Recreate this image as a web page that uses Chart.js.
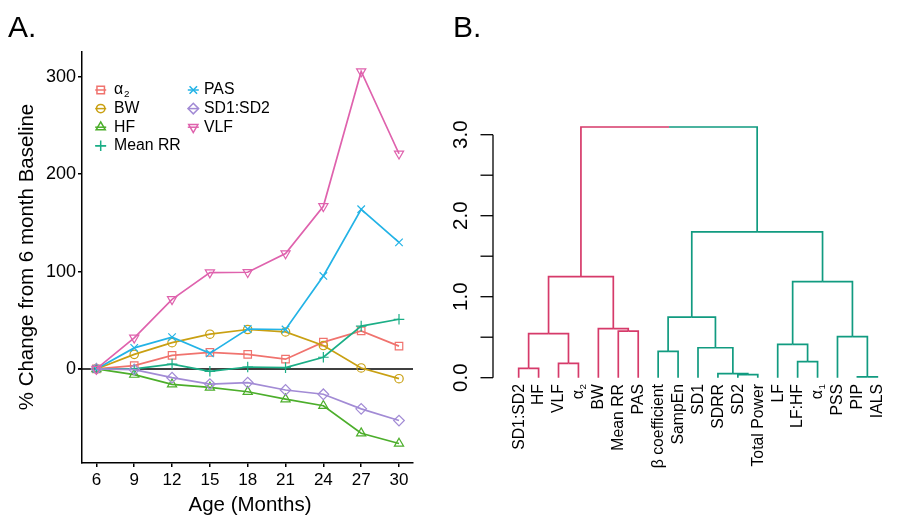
<!DOCTYPE html>
<html><head><meta charset="utf-8">
<script src="https://cdn.jsdelivr.net/npm/chart.js@4.4.1/dist/chart.umd.min.js"></script>
<style>
html,body{margin:0;padding:0;background:#fff;}
#wrap{position:relative;width:898px;height:517px;overflow:hidden;background:#fff;}
.pane{position:absolute;top:0;width:449px;height:517px;}
</style></head><body>
<div id="wrap">
<div class="pane" style="left:0"><canvas id="chartA" width="449" height="517"></canvas></div>
<div class="pane" style="left:449px"><canvas id="chartB" width="449" height="517"></canvas></div>
</div>
<script>
// ---------- Panel A data ----------
const ages = [6, 9, 12, 15, 18, 21, 24, 27, 30];
const seriesNames = ['α₂', 'BW', 'HF', 'Mean RR', 'PAS', 'SD1:SD2', 'VLF'];
const alpha2 = [0, 3.4, 14, 17, 15, 10, 27.5, 39, 23.4];
const bw = [0, 15, 27, 35.7, 40.5, 38, 24, 1, -10];
const hf = [0, -5.8, -15.8, -19, -23.4, -31, -37.8, -66, -76.6];
const meanRR = [0, 0, 5, -2.4, 2, 1.4, 12, 44, 51];
const pas = [0, 21.6, 32.6, 16, 41, 40.5, 95.5, 164, 130];
const sd1sd2 = [0, -0.7, -9, -15.5, -14, -21.6, -26, -41, -53];
const vlf = [0, 32, 71.5, 99, 99.3, 118.6, 167, 305.5, 221];
const yTicksA = [0, 100, 200, 300];
const xTicksA = [6, 9, 12, 15, 18, 21, 24, 27, 30];

// ---------- Panel B data ----------
const leafLabels = ['SD1:SD2', 'HF', 'VLF', 'α₂', 'BW', 'Mean RR', 'PAS', 'β coefficient', 'SampEn', 'SD1',
  'SDRR', 'SD2', 'Total Power', 'LF', 'LF:HF', 'α₁', 'PSS', 'PIP', 'IALS'];
const mergeA = [-18, -12, -11, -1, -3, -15, -8, -10, -14, -17, 4, -6, -5, 7, 9, 11, 14, 16];
const mergeB = [-19, -13, 2, -2, -4, -16, -9, 3, 6, 1, 5, -7, 12, 8, 10, 13, 15, 17];
const mergeH = [0.01, 0.037, 0.05, 0.116, 0.178, 0.198, 0.326, 0.37, 0.412, 0.506, 0.543, 0.576, 0.605, 0.749, 1.185, 1.247, 1.80, 3.095];
const leafCluster = [1, 1, 1, 1, 1, 1, 1, 2, 2, 2, 2, 2, 2, 2, 2, 2, 2, 2, 2];
const yTicksB = [0, 0.5, 1, 1.5, 2, 2.5, 3];
const yTickLabelsB = ['0.0', '', '1.0', '', '2.0', '', '3.0'];

// ---------- styles ----------
const fontFam = '"Liberation Sans", Arial, Helvetica, "DejaVu Sans", sans-serif';
Chart.defaults.font.family = fontFam;
Chart.defaults.color = '#000';
Chart.defaults.animation = false;

const seriesVals = [alpha2, bw, hf, meanRR, pas, sd1sd2, vlf];
const colors = ['#F0736E', '#C9A012', '#4CAE2B', '#1BAE86', '#23B3E6', '#A28BD5', '#DF62AD'];
const pStyles = ['rect', 'circle', 'triangle', 'cross', 'crossRot', 'rectRot', 'triangle'];
const pRot = [0, 0, 0, 0, 0, 0, 180];
const pRad = [5.3, 4.2, 5.3, 5.3, 5.3, 5.3, 5.3];
const clusterColors = ['#000000', '#D63A6A', '#119B80'];

function drawSubText(ctx, text, x, y, size, align) {
  const subMap = {'₁': '1', '₂': '2'};
  let main = text, sub = '';
  const last = text.slice(-1);
  if (subMap[last]) { main = text.slice(0, -1); sub = subMap[last]; }
  ctx.font = size + 'px ' + fontFam;
  const wMain = ctx.measureText(main).width;
  const subSize = size * 0.62;
  let wSub = 0;
  if (sub) { ctx.font = subSize + 'px ' + fontFam; wSub = ctx.measureText(sub).width + size * 0.05; }
  const total = wMain + wSub;
  const x0 = align === 'right' ? x - total : (align === 'center' ? x - total / 2 : x);
  ctx.textAlign = 'left';
  ctx.textBaseline = 'middle';
  ctx.font = size + 'px ' + fontFam;
  ctx.fillText(main, x0, y);
  if (sub) {
    ctx.font = subSize + 'px ' + fontFam;
    ctx.fillText(sub, x0 + wMain + size * 0.05, y + size * 0.3);
  }
}

function drawMarker(ctx, style, rot, r, x, y) {
  if (Chart.helpers && Chart.helpers.drawPoint) {
    Chart.helpers.drawPoint(ctx, {pointStyle: style, rotation: rot, radius: r, borderWidth: 1.2}, x, y);
  }
}

// ---------- Panel A ----------
const panelAPlugin = {
  id: 'panelA',
  beforeDatasetsDraw(chart) {
    const ctx = chart.ctx, a = chart.chartArea;
    const y0 = chart.scales.y.getPixelForValue(0);
    ctx.save();
    ctx.strokeStyle = '#000'; ctx.lineWidth = 1.6;
    ctx.beginPath(); ctx.moveTo(a.left - 4, y0); ctx.lineTo(a.right, y0); ctx.stroke();
    ctx.restore();
  },
  afterDraw(chart) {
    const ctx = chart.ctx;
    ctx.save();
    ctx.fillStyle = '#000';
    ctx.font = '30px ' + fontFam; ctx.textAlign = 'left'; ctx.textBaseline = 'alphabetic';
    ctx.fillText('A.', 8, 37);
    ctx.font = '20.5px ' + fontFam; ctx.textAlign = 'center'; ctx.textBaseline = 'alphabetic';
    ctx.fillText('Age (Months)', 250, 511);
    ctx.save();
    ctx.translate(33, 257); ctx.rotate(-Math.PI / 2);
    ctx.fillText('% Change from 6 month Baseline', 0, 0);
    ctx.restore();
    for (let i = 0; i < seriesNames.length; i++) {
      const col = i < 4 ? 0 : 1, row = i < 4 ? i : i - 4;
      const cx = col === 0 ? 100.7 : 193.3;
      const cy = 90 + row * 18.6;
      const tx = col === 0 ? 114 : 204;
      ctx.strokeStyle = colors[i]; ctx.fillStyle = 'rgba(0,0,0,0)';
      ctx.lineWidth = 1.5;
      ctx.beginPath(); ctx.moveTo(cx - 5.5, cy); ctx.lineTo(cx + 5.5, cy); ctx.stroke();
      drawMarker(ctx, pStyles[i], pRot[i], pRad[i], cx, cy);
      ctx.fillStyle = '#000';
      drawSubText(ctx, seriesNames[i], tx, cy, 15.8, 'left');
    }
    ctx.restore();
  }
};

new Chart(document.getElementById('chartA'), {
  type: 'line',
  data: {
    datasets: seriesNames.map((n, i) => ({
      label: n,
      data: ages.map((a, j) => ({x: a, y: seriesVals[i][j]})),
      borderColor: colors[i], backgroundColor: 'rgba(0,0,0,0)', borderWidth: 1.7,
      pointStyle: pStyles[i], pointRotation: pRot[i], pointRadius: pRad[i],
      pointBorderColor: colors[i], pointBackgroundColor: 'rgba(0,0,0,0)', pointBorderWidth: 1.2,
      tension: 0, order: 6 - i, clip: false
    }))
  },
  options: {
    responsive: false, animation: false,
    layout: {padding: {left: 0, top: 52, right: 36, bottom: 0}},
    plugins: {legend: {display: false}, tooltip: {enabled: false}},
    scales: {
      x: {
        type: 'linear', min: 4.857, max: 31.11,
        afterBuildTicks: s => { s.ticks = xTicksA.map(v => ({value: v})); },
        afterFit: s => { s.height = 54; },
        border: {display: true, color: '#000', width: 1.5},
        grid: {display: true, drawOnChartArea: false, drawTicks: true, tickLength: 4, color: '#000', lineWidth: 1.5},
        ticks: {font: {size: 17}, padding: 3, color: '#000', maxRotation: 0, autoSkip: false}
      },
      y: {
        type: 'linear', min: -96.6, max: 325.5,
        afterBuildTicks: s => { s.ticks = yTicksA.map(v => ({value: v})); },
        afterFit: s => { s.width = 82; },
        border: {display: true, color: '#000', width: 1.5},
        grid: {display: true, drawOnChartArea: false, drawTicks: true, tickLength: 4, color: '#000', lineWidth: 1.5},
        ticks: {font: {size: 18}, padding: 2, color: '#000', autoSkip: false}
      }
    }
  },
  plugins: [panelAPlugin]
});

// ---------- Panel B ----------
const nodes = [];
function nodeOf(k) {
  if (k < 0) return {x: -k, h: 0, cl: leafCluster[-k - 1]};
  return nodes[k - 1];
}
const segments = [];
for (let m = 0; m < mergeH.length; m++) {
  const a = nodeOf(mergeA[m]), b = nodeOf(mergeB[m]);
  const mx = (a.x + b.x) / 2, H = mergeH[m];
  [a, b].forEach(c => {
    segments.push({pts: [{x: c.x, y: c.h}, {x: c.x, y: H}, {x: mx, y: H}], color: clusterColors[c.cl]});
  });
  nodes.push({x: mx, h: H, cl: a.cl === b.cl ? a.cl : 0});
}

const panelBPlugin = {
  id: 'panelB',
  afterDraw(chart) {
    const ctx = chart.ctx;
    const xs = chart.scales.x, ys = chart.scales.y;
    ctx.save();
    ctx.fillStyle = '#000';
    ctx.font = '30px ' + fontFam; ctx.textAlign = 'left'; ctx.textBaseline = 'alphabetic';
    ctx.fillText('B.', 4, 37);
    const ax = 44;
    ctx.strokeStyle = '#000'; ctx.lineWidth = 1.3;
    ctx.beginPath();
    ctx.moveTo(ax, ys.getPixelForValue(yTicksB[0]));
    ctx.lineTo(ax, ys.getPixelForValue(yTicksB[yTicksB.length - 1]));
    ctx.stroke();
    yTicksB.forEach((v, i) => {
      const py = ys.getPixelForValue(v);
      ctx.beginPath(); ctx.moveTo(ax, py); ctx.lineTo(ax - 12.5, py); ctx.stroke();
      if (yTickLabelsB[i]) {
        ctx.save();
        ctx.translate(12, py); ctx.rotate(-Math.PI / 2);
        ctx.font = '20.5px ' + fontFam; ctx.textAlign = 'center'; ctx.textBaseline = 'middle';
        ctx.fillText(yTickLabelsB[i], 0, 0);
        ctx.restore();
      }
    });
    leafLabels.forEach((lab, i) => {
      const px = xs.getPixelForValue(i + 1);
      ctx.save();
      ctx.translate(px + 0.5, 384); ctx.rotate(-Math.PI / 2);
      ctx.fillStyle = '#000';
      drawSubText(ctx, lab, 0, 0, 15.8, 'right');
      ctx.restore();
    });
    ctx.restore();
  }
};

new Chart(document.getElementById('chartB'), {
  type: 'scatter',
  data: {
    datasets: segments.map(s => ({
      data: s.pts, showLine: true, borderColor: s.color, borderWidth: 1.7,
      pointRadius: 0, fill: false, tension: 0, clip: false
    }))
  },
  options: {
    responsive: false, animation: false,
    layout: {padding: {left: 59.7, right: 10.7, top: 118.5, bottom: 139.3}},
    plugins: {legend: {display: false}, tooltip: {enabled: false}},
    scales: {
      x: {type: 'linear', min: 0.5, max: 19.5, display: false},
      y: {type: 'linear', min: 0, max: 3.2, display: false}
    }
  },
  plugins: [panelBPlugin]
});
</script>
</body></html>
